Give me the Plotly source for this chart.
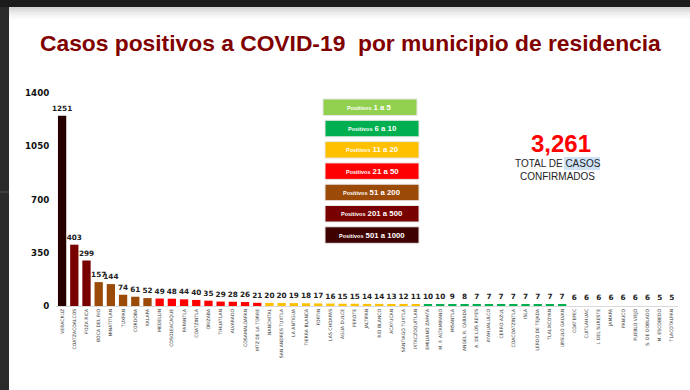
import plotly.graph_objects as go

municipios = ["VERACRUZ", "COATZACOALCOS", "POZA RICA", "BOCA DEL RIO", "MINATITLAN", "TUXPAN",
              "CORDOBA", "XALAPA", "MEDELLIN", "COSOLEACAQUE", "PAPANTLA", "COATZINTLA", "ORIZABA",
              "TIHUATLAN", "ALVARADO", "COSAMALOAPAN", "MTZ DE LA TORRE", "NANCHITAL",
              "SAN ANDRES TUXTLA", "LA ANTIGUA", "TIERRA BLANCA", "FORTIN", "LAS CHOAPAS",
              "AGUA DULCE", "PEROTE", "JALTIPAN", "RIO BLANCO", "ACAYUCAN", "SANTIAGO TUXTLA",
              "IXTACZOQUITLAN", "EMILIANO ZAPATA", "M. F. ALTAMIRANO", "MISANTLA",
              "ANGEL R. CABADA", "A. DE LOS REYES", "AYAHUALULCO", "CERRO AZUL", "COACOATZINTLA",
              "ISLA", "LERDO DE TEJADA", "TLALIXCOYAN", "URSULO GALVAN", "COATEPEC", "CUITLAHUAC",
              "I. DEL SURESTE", "JAMAPA", "PANUCO", "PUEBLO VIEJO", "S. DE DOBLADO", "M. ESCOBEDO",
              "TLACOTALPAN"]
casos = [1251, 403, 299, 157, 144, 74, 61, 52, 49, 48, 44, 40, 35, 29, 28, 26, 21, 20, 20, 19,
         18, 17, 16, 15, 15, 14, 14, 13, 12, 11, 10, 10, 9, 8, 7, 7, 7, 7, 7, 7, 7, 7, 6, 6, 6, 6,
         6, 6, 6, 5, 5]
y_ticks = [0, 350, 700, 1050, 1400]
total_casos = "3,261"
rangos = ["1 a 5", "6 a 10", "11 a 20", "21 a 50", "51 a 200", "201 a 500", "501 a 1000"]
colores_rango = ["#92D050", "#00B050", "#FFC000", "#FF0000", "#9C4A08", "#780000", "#3F0000"]


def color_bar(v):
    if v > 500:
        return "#260000"
    if v > 200:
        return "#780000"
    if v > 50:
        return "#9C4A08"
    if v > 20:
        return "#FF0000"
    if v > 10:
        return "#FFC000"
    if v > 6:
        return "#00B050"
    return "rgba(255,255,255,0)"


W, H = 690, 390
ML, MR, MT, MB = 56, 12, 93, 84
PW, PH = W - ML - MR, H - MT - MB


def px(x):
    return (x - ML) / PW


def py(y):
    return (H - MB - y) / PH


fig = go.Figure()
fig.add_trace(go.Bar(
    x=municipios, y=casos,
    marker=dict(color=[color_bar(v) for v in casos], line=dict(width=0)),
    text=[str(v) for v in casos], textposition="outside", constraintext="none",
    textfont=dict(family="DejaVu Sans", size=7.3, color="#222222", weight="bold"),
    cliponaxis=False, width=0.68,
))

shapes = []
# dark surround (screen) top and left
shapes.append(dict(type="rect", xref="paper", yref="paper", x0=px(0), x1=px(W), y0=py(0), y1=py(7),
                   fillcolor="#1b1b1b", line=dict(width=0), layer="above"))
grad = ["#d4d4d4", "#dedede", "#e7e7e7", "#efefef", "#f5f5f5", "#fafafa"]
for i, c in enumerate(grad):
    shapes.append(dict(type="rect", xref="paper", yref="paper", x0=px(0), x1=px(W),
                       y0=py(7 + 2 * i), y1=py(9 + 2 * i), fillcolor=c, line=dict(width=0), layer="below"))
shapes.append(dict(type="rect", xref="paper", yref="paper", x0=px(0), x1=px(9), y0=py(7), y1=py(H),
                   fillcolor="#2a2a2a", line=dict(width=0), layer="above"))
shapes.append(dict(type="line", xref="paper", yref="paper", x0=px(0), x1=px(9), y0=py(192), y1=py(192),
                   line=dict(color="#555555", width=1), layer="above"))

annotations = []
# legend boxes
top = 99
for i, (r, c) in enumerate(zip(rangos, colores_rango)):
    y0 = top + i * 21.3
    x0 = 323 if i == 0 else 325
    shapes.append(dict(type="rect", xref="paper", yref="paper", x0=px(x0), x1=px(x0 + 94),
                       y0=py(y0), y1=py(y0 + 16.5), fillcolor=c, line=dict(color="#e8e8e8", width=1)))
    annotations.append(dict(xref="paper", yref="paper", x=px(x0 + 47), y=py(y0 + 8.3),
                            text="<span style='font-size:5.5px'>Positivos</span> " + r,
                            showarrow=False, xanchor="center", yanchor="middle",
                            font=dict(family="Liberation Sans", size=7.8, color="white", weight="bold")))

annotations.append(dict(xref="paper", yref="paper", x=px(561), y=py(143), text=total_casos,
                        showarrow=False, xanchor="center", yanchor="middle",
                        font=dict(family="Liberation Sans", size=24, color="#FF0000", weight="bold")))
shapes.append(dict(type="rect", xref="paper", yref="paper", x0=px(564), x1=px(600), y0=py(157), y1=py(170),
                   fillcolor="#cfe3f8", line=dict(width=0), layer="below"))
annotations.append(dict(xref="paper", yref="paper", x=px(558), y=py(163.5), text="TOTAL DE CASOS",
                        showarrow=False, xanchor="center", yanchor="middle",
                        font=dict(family="Liberation Sans", size=10, color="#222222")))
annotations.append(dict(xref="paper", yref="paper", x=px(557), y=py(176.5), text="CONFIRMADOS",
                        showarrow=False, xanchor="center", yanchor="middle",
                        font=dict(family="Liberation Sans", size=10, color="#222222")))
annotations.append(dict(xref="paper", yref="paper", x=px(350), y=py(43),
                        text="Casos positivos a COVID-19  por municipio de residencia",
                        showarrow=False, xanchor="center", yanchor="middle",
                        font=dict(family="Liberation Sans", size=22.8, color="#800000", weight="bold")))

fig.update_layout(
    width=W, height=H, margin=dict(l=ML, r=MR, t=MT, b=MB),
    paper_bgcolor="white", plot_bgcolor="white", showlegend=False,
    shapes=shapes, annotations=annotations, bargap=0.32,
    xaxis=dict(tickangle=-90, tickfont=dict(family="DejaVu Sans", size=4.6, color="#333333"),
               showline=True, linecolor="#d9d9d9", linewidth=1, ticks="", showgrid=False,
               range=[-0.5, len(municipios) - 0.5]),
    yaxis=dict(range=[0, 1400], tickvals=y_ticks, ticktext=[str(t) for t in y_ticks],
               tickfont=dict(family="DejaVu Sans", size=8.7, color="#111111", weight="bold"),
               showgrid=False, zeroline=False, showline=False, ticks="outside", ticklen=4,
               tickcolor="white"),
)

fig.write_html("out.html", config={"displayModeBar": False},
               post_script="document.body.style.margin='0';document.body.style.padding='0';"
                           "document.body.style.overflow='hidden';")
